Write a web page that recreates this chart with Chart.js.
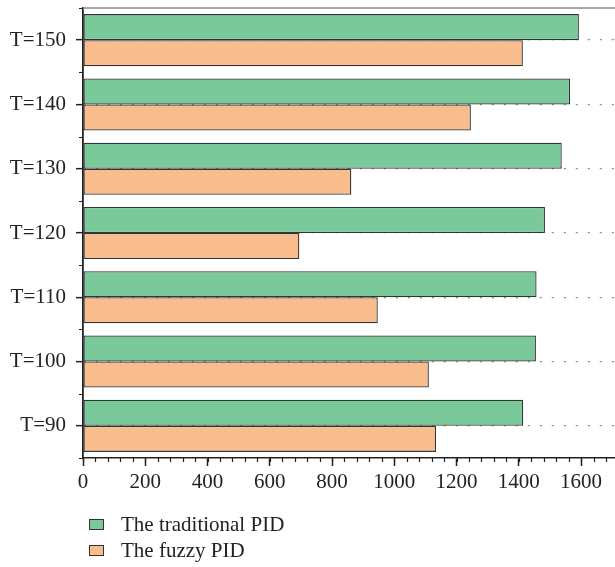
<!DOCTYPE html>
<html>
<head>
<meta charset="utf-8">
<script src="https://cdn.jsdelivr.net/npm/chart.js@4.4.1/dist/chart.umd.min.js"></script>
<style>
html, body { margin: 0; padding: 0; background: #fff; }
#wrap { position: relative; width: 615px; height: 567px; }
#legend { position: absolute; left: 89px; top: 511px; font-family: "Liberation Serif", serif; font-size: 21px; color: #222; }
.item { display: flex; align-items: center; height: 26px; }
.box { width: 13px; height: 9px; border: 1px solid #333; margin-right: 17px; }
</style>
</head>
<body>
<div id="wrap">
  <canvas id="chart" width="615" height="567"></canvas>
  <div id="legend"></div>
</div>
<script>
// datos
const categories = ['T=150', 'T=140', 'T=130', 'T=120', 'T=110', 'T=100', 'T=90'];
const traditionalPID = [1593, 1565, 1538, 1484, 1457, 1455, 1414];
const fuzzyPID = [1413, 1246, 862, 695, 947, 1111, 1134];
const xTicks = [0, 200, 400, 600, 800, 1000, 1200, 1400, 1600];
const xMinorStep = 40;
const xMax = 1709;

const serif = { family: '"Liberation Serif", serif', size: 21 };

// ticks menores y linea superior
const axisMarks = {
    id: 'axisMarks',
    afterDraw(chart) {
        const { ctx, chartArea: a, scales: { x, y } } = chart;
        ctx.save();
        ctx.strokeStyle = '#222';
        ctx.lineWidth = 1.2;
        ctx.beginPath();
        for (let v = 0; v <= x.max; v += xMinorStep) {
            const px = Math.round(x.getPixelForValue(v)) + 0.5;
            ctx.moveTo(px, a.bottom);
            ctx.lineTo(px, a.bottom + 4);
        }
        for (let i = 0; i <= categories.length; i++) {
            const py = Math.round(y.getPixelForValue(i - 0.5)) + 0.5;
            ctx.moveTo(a.left, py);
            ctx.lineTo(a.left - 4, py);
        }
        ctx.stroke();
        ctx.strokeStyle = '#8a8a8a';
        ctx.lineWidth = 1.5;
        ctx.beginPath();
        ctx.moveTo(a.left, a.top);
        ctx.lineTo(a.right, a.top);
        ctx.stroke();
        ctx.restore();
    }
};

const chart = new Chart(document.getElementById('chart'), {
    type: 'bar',
    data: {
        labels: categories,
        datasets: [{
            label: 'The traditional PID',
            data: traditionalPID,
            backgroundColor: '#7ac99a',
            borderColor: '#333',
            borderWidth: 1.3,
            borderSkipped: false
        }, {
            label: 'The fuzzy PID',
            data: fuzzyPID,
            backgroundColor: '#f9bd8d',
            borderColor: '#333',
            borderWidth: 1.3,
            borderSkipped: false
        }]
    },
    options: {
        indexAxis: 'y',
        responsive: false,
        animation: false,
        devicePixelRatio: 1,
        barPercentage: 1,
        categoryPercentage: 0.81,
        layout: { padding: { top: 8, left: 0, right: 0, bottom: 0 } },
        plugins: { legend: { display: false }, tooltip: { enabled: false } },
        scales: {
            x: {
                type: 'linear',
                min: 0,
                max: xMax,
                afterBuildTicks: s => { s.ticks = xTicks.map(v => ({ value: v })); },
                afterFit: s => { s.height = 109; s.paddingRight = 0; },
                grid: { drawOnChartArea: false, drawTicks: true, tickLength: 8, tickColor: '#222', tickWidth: 1.5 },
                border: { display: true, color: '#222', width: 1.5 },
                ticks: { font: serif, color: '#222', padding: 4, maxRotation: 0, autoSkip: false, callback: v => String(v) }
            },
            y: {
                afterFit: s => { s.width = 83; s.paddingTop = 0; s.paddingBottom = 0; },
                grid: { offset: false, color: '#8c8c8c', lineWidth: 1.3, drawTicks: true, tickLength: 7, tickColor: '#222', tickWidth: 1.5 },
                border: { display: true, color: '#222', width: 1.8, dash: [2, 10] },
                ticks: { font: serif, color: '#222', padding: 10 }
            }
        }
    },
    plugins: [axisMarks]
});

// leyenda en HTML
const legend = document.getElementById('legend');
chart.data.datasets.forEach(ds => {
    const item = document.createElement('div');
    item.className = 'item';
    item.innerHTML = `<span class="box" style="background:${ds.backgroundColor}"></span><span>${ds.label}</span>`;
    legend.appendChild(item);
});
</script>
</body>
</html>
